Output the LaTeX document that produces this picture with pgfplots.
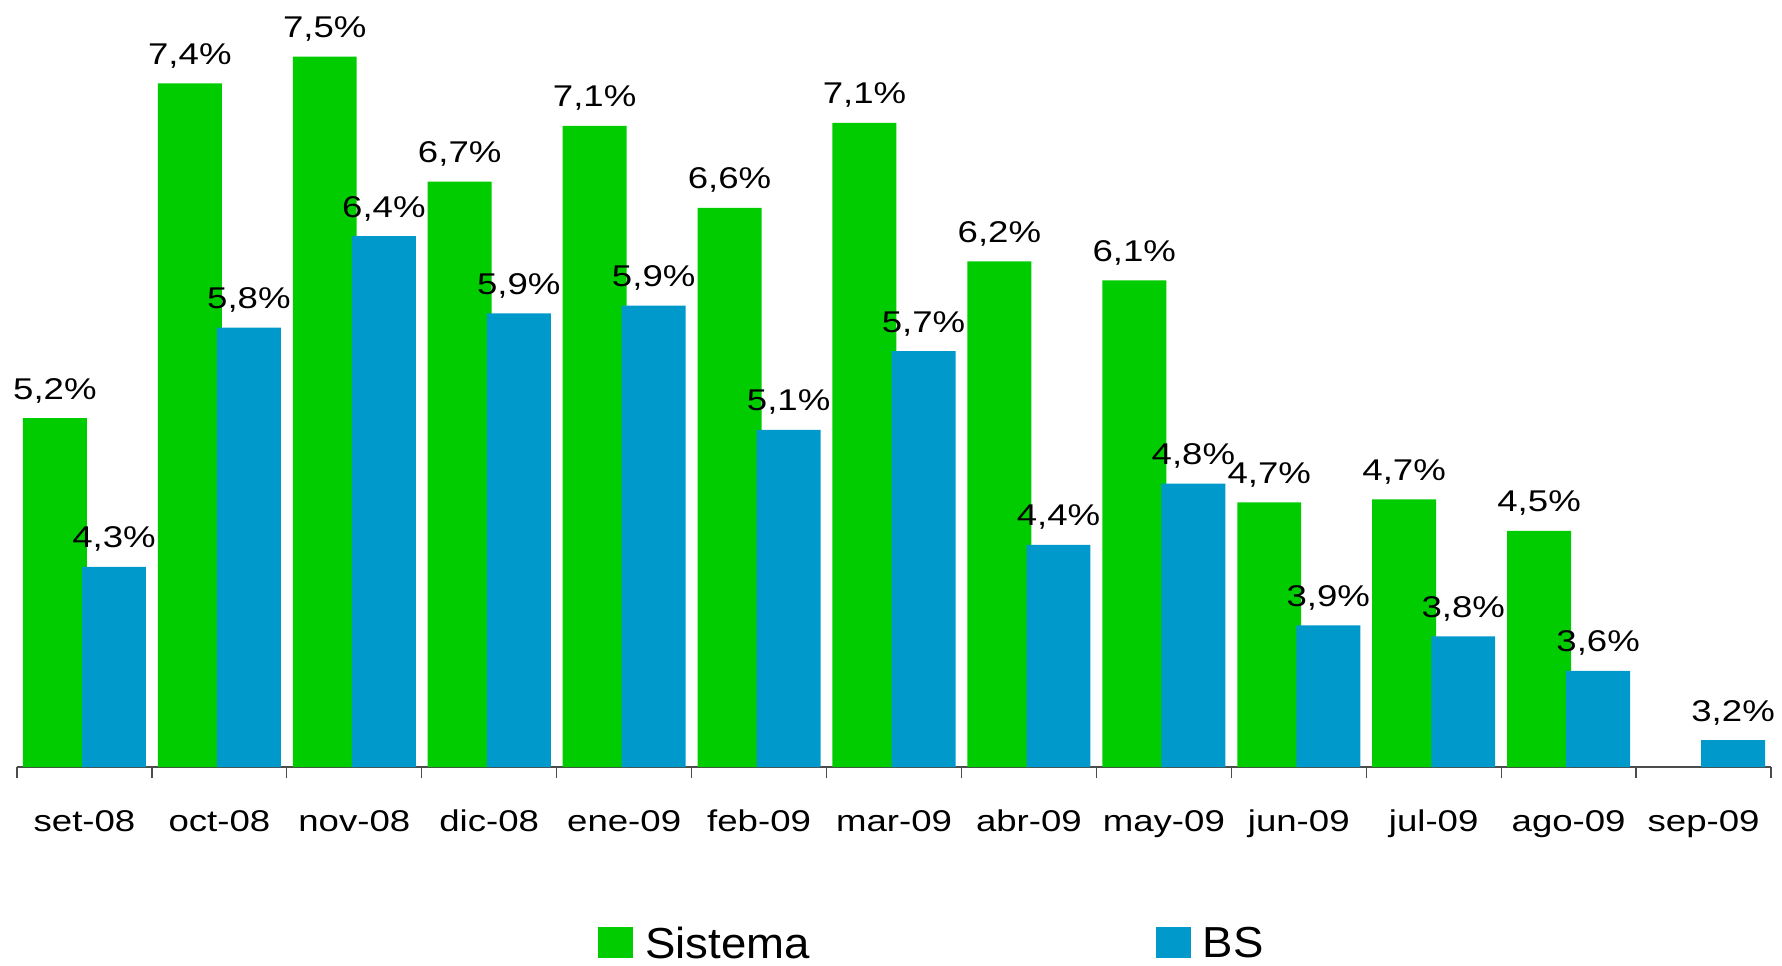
\documentclass[border=0pt]{standalone}
\usepackage{fontspec}
\setmainfont[FakeStretch=1.22]{Liberation Sans}
\newfontfamily\legfont[FakeStretch=1.05]{Liberation Sans}
\usepackage{pgfplots}
\pgfplotsset{compat=1.18}
\definecolor{sisgreen}{RGB}{0,204,0}
\definecolor{bsblue}{RGB}{0,153,204}
\begin{document}
\begin{tikzpicture}
\begin{axis}[
  name=a,
  scale only axis, width=877pt, height=383.5pt,
  xmin=-0.5, xmax=12.5, ymin=3, ymax=7.87,
  hide y axis,
  axis x line=bottom,
  x axis line style={-, draw=black!70, line width=0.6pt},
  xtick={0,...,12},
  xticklabels={set-08,oct-08,nov-08,dic-08,ene-09,feb-09,mar-09,abr-09,may-09,jun-09,jul-09,ago-09,sep-09},
  major tick length=0pt,
  minor xtick={-0.5,0.5,...,12.5},
  minor tick length=5.5pt,
  tick align=outside,
  tick style={draw=black!70, line width=0.6pt},
  xticklabel style={font=\fontsize{15}{18}\selectfont, anchor=base, yshift=-32.3pt},
  ybar, bar width=0.474,
  nodes near coords={\pgfplotspointmeta\%},
  point meta=explicit symbolic,
  nodes near coords style={font=\fontsize{15}{18}\selectfont, anchor=base, yshift=9.5pt, text=black},
  legend image code/.code={\fill[#1] (0pt,-7.3pt) rectangle (17.5pt,8.2pt);},
  legend columns=2,
  legend cell align=left,
  legend style={draw=none, fill=none, inner sep=0pt,
    at={(axis description cs:0.331,-0.2305)}, anchor=west,
    font=\legfont\fontsize{21.7}{26}\selectfont,
    /tikz/every odd column/.append style={column sep=4.2pt},
    /tikz/every even column/.append style={column sep=170.8pt}},
]
\addplot[fill=sisgreen, draw=none, bar shift=-0.219] coordinates {
(0,5.215) [5,2]
(1,7.34) [7,4]
(2,7.51) [7,5]
(3,6.716) [6,7]
(4,7.07) [7,1]
(5,6.55) [6,6]
(6,7.09) [7,1]
(7,6.21) [6,2]
(8,6.09) [6,1]
(9,4.68) [4,7]
(10,4.70) [4,7]
(11,4.50) [4,5]
};
\addlegendentry{Sistema}
\addplot[fill=bsblue, draw=none, bar shift=0.219] coordinates {
(0,4.27) [4,3]
(1,5.79) [5,8]
(2,6.37) [6,4]
(3,5.88) [5,9]
(4,5.93) [5,9]
(5,5.14) [5,1]
(6,5.64) [5,7]
(7,4.41) [4,4]
(8,4.80) [4,8]
(9,3.90) [3,9]
(10,3.83) [3,8]
(11,3.61) [3,6]
(12,3.17) [3,2]
};
\addlegendentry{BS}
\end{axis}
\pgfresetboundingbox
\path ([shift={(-8.5pt,-99pt)}]a.south west) rectangle ([shift={(5.5pt,0pt)}]a.north east);
\end{tikzpicture}
\end{document}
